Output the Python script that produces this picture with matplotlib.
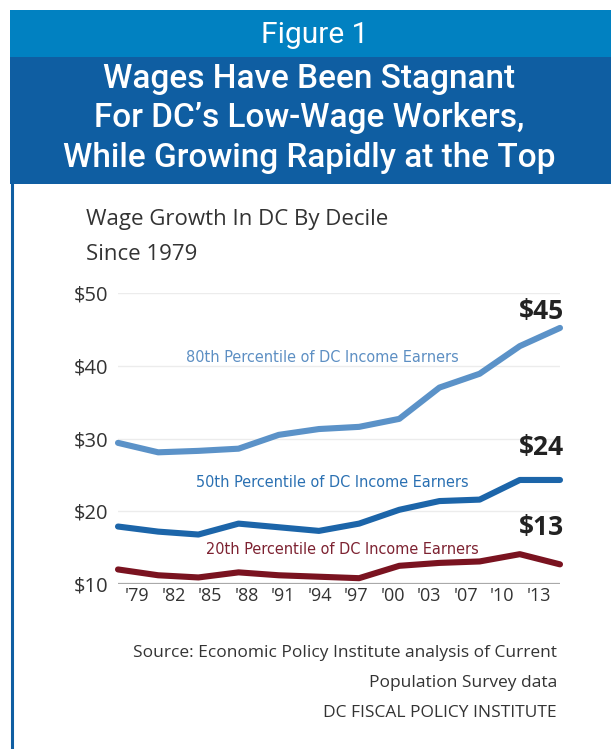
import matplotlib
matplotlib.use("Agg")
import matplotlib.pyplot as plt
from matplotlib.patches import Rectangle
from matplotlib.lines import Line2D

# Survey years and hourly wages by percentile (dollars)
years = ["'79", "'82", "'85", "'88", "'91", "'94", "'97", "'00", "'03", "'07", "'10", "'13"]
p80 = [29.4, 28.1, 28.3, 28.6, 30.5, 31.3, 31.6, 32.7, 37.0, 38.9, 42.7, 45.2]
p50 = [17.9, 17.2, 16.8, 18.3, 17.8, 17.3, 18.3, 20.2, 21.4, 21.6, 24.3, 24.3]
p20 = [12.0, 11.2, 10.9, 11.6, 11.2, 11.0, 10.8, 12.5, 12.9, 13.1, 14.1, 12.7]
y_ticks = [10, 20, 30, 40, 50]
end_labels = ["$45", "$24", "$13"]
series_names = ["80th Percentile of DC Income Earners",
                "50th Percentile of DC Income Earners",
                "20th Percentile of DC Income Earners"]

W, H = 611, 749
fig = plt.figure(figsize=(W / 100, H / 100), dpi=100)
fig.patch.set_facecolor("white")


def fx(px):
    return px / W


def fy(py):
    return 1 - py / H


BODY = ["Open Sans", "DejaVu Sans"]
NARROW = ["DejaVu Sans"]
HEAD = ["Roboto", "DejaVu Sans"]

# Header bands
fig.add_artist(Rectangle((fx(10), fy(57)), fx(W - 10), 47 / H,
                         transform=fig.transFigure, color="#0181c1", lw=0))
fig.add_artist(Rectangle((fx(10), fy(184)), fx(W - 10), 127 / H,
                         transform=fig.transFigure, color="#0f5ea2", lw=0))
# Left frame rule
fig.add_artist(Line2D([fx(12), fx(12)], [fy(184), 0], transform=fig.transFigure,
                      color="#0f5ea2", lw=2.2))

fig.text(fx(315), fy(35), "Figure 1", color="white", fontsize=21.5,
         family=HEAD, weight="normal", ha="center", va="center")
heading = ["Wages Have Been Stagnant",
           "For DC\u2019s Low-Wage Workers,",
           "While Growing Rapidly at the Top"]
for i, line in enumerate(heading):
    fig.text(fx(309), fy(79 + 39.5 * i), line, color="white", fontsize=24,
             family=HEAD, weight="medium", ha="center", va="center")

fig.text(fx(86), fy(219), "Wage Growth In DC By Decile", color="#333333",
         fontsize=16, family=BODY, ha="left", va="center")
fig.text(fx(86), fy(255), "Since 1979", color="#333333",
         fontsize=16, family=BODY, ha="left", va="center")

# Plot area
ax = fig.add_axes([fx(118), fy(584), fx(560) - fx(118), (584 - 293) / H])
ax.set_xlim(0, len(years) - 1)
ax.set_ylim(10, 50)
for s in ax.spines.values():
    s.set_visible(False)
ax.set_facecolor("none")

for v in y_ticks[1:]:
    ax.axhline(v, color="#ececec", lw=1.0, zorder=0)
ax.axhline(y_ticks[0], color="#a9a9a9", lw=1.6, zorder=1)

x = list(range(len(years)))
colors = ["#5b92c8", "#1c65a9", "#7a1320"]
label_colors = ["#5d8fc3", "#2a70b2", "#7d2231"]
for vals, c in zip([p80, p50, p20], colors):
    ax.plot(x, vals, color=c, lw=4.4, solid_capstyle="round",
            solid_joinstyle="round", clip_on=False, zorder=3)

ax.set_yticks(y_ticks)
ax.set_yticklabels([f"${v}" for v in y_ticks], family=BODY, fontsize=14.5,
                   color="#333333")
ax.tick_params(axis="y", length=0, pad=7)

# Year labels sit on their own even spacing under the plot
tick_pos = [0.47 + 0.909 * i for i in range(len(years))]
ax.set_xticks(tick_pos)
ax.set_xticklabels(years, family=BODY, fontsize=13, color="#333333")
ax.tick_params(axis="x", length=0, pad=2)

# Series names
name_pos = [(5.09, 41.2), (5.34, 24.0), (5.59, 14.7)]
for (nx, ny), name, c in zip(name_pos, series_names, label_colors):
    ax.text(nx, ny, name, color=c, fontsize=11.6, family=NARROW,
            fontstretch="condensed", ha="center", va="center")

# End values
end_y = [47.4, 28.7, 17.7]
for ey, lab in zip(end_y, end_labels):
    ax.text(11.1, ey, lab, color="#222222", fontsize=19, weight="bold",
            family=BODY, ha="right", va="center")

src = ["Source: Economic Policy Institute analysis of Current",
       "Population Survey data",
       "DC FISCAL POLICY INSTITUTE"]
for i, line in enumerate(src):
    fig.text(fx(557), fy(653 + 30 * i), line, color="#333333", fontsize=12.5,
             family=BODY, ha="right", va="center")

fig.savefig("out.png", dpi=100, facecolor="white")
